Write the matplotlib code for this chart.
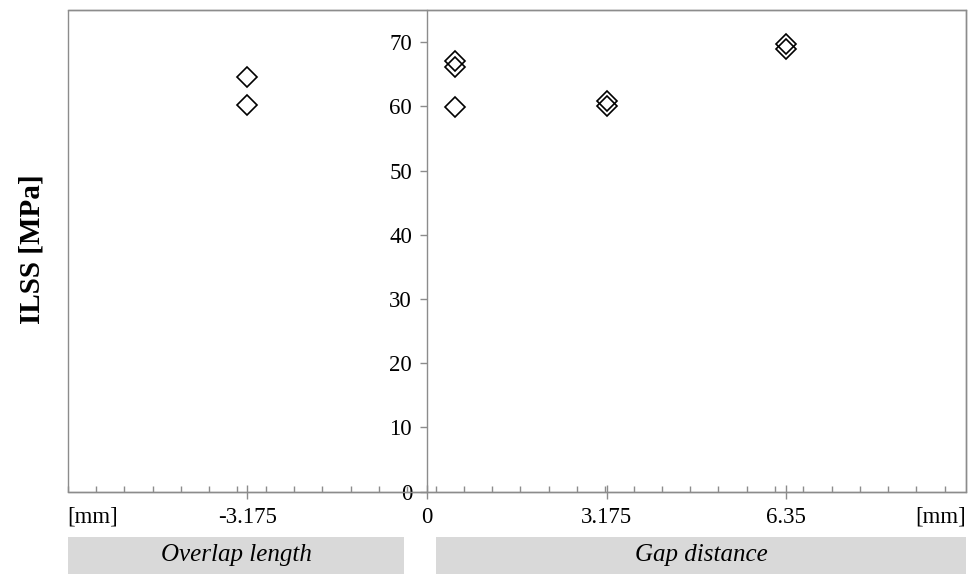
import matplotlib
matplotlib.use("Agg")
import matplotlib.pyplot as plt
from matplotlib.patches import Rectangle
import numpy as np

# Data
overlap_x = [-3.175, -3.175]
overlap_y = [64.6, 60.2]
gap_x = [0.5, 0.5, 0.5, 3.175, 3.175, 6.35, 6.35]
gap_y = [67.0, 66.2, 59.9, 60.8, 60.0, 69.7, 68.9]
major_ticks = [-3.175, 0, 3.175, 6.35]
major_labels = ["-3.175", "0", "3.175", "6.35"]
y_ticks = [0, 10, 20, 30, 40, 50, 60, 70]

SERIF = ["Liberation Serif", "DejaVu Serif"]
plt.rcParams["font.family"] = SERIF
GRAY = "#8c8c8c"

W, H = 973, 574
fig = plt.figure(figsize=(W / 100, H / 100), dpi=100)
l, r, t, b = 67.7, 966, 10, 491.7
ax = fig.add_axes([l / W, 1 - b / H, (r - l) / W, (b - t) / H])

ax.set_xlim(-6.35, 9.525)
ax.set_ylim(0, 75)

ax.plot(overlap_x + gap_x, overlap_y + gap_y, linestyle="none", marker="D",
        markersize=10, markerfacecolor="none", markeredgecolor="black",
        markeredgewidth=1.2, clip_on=False, zorder=5)

# spines
for s in ["top", "right"]:
    ax.spines[s].set_color(GRAY)
    ax.spines[s].set_linewidth(1.0)
ax.spines["left"].set_position(("data", 0))
ax.spines["left"].set_color(GRAY)
ax.spines["left"].set_linewidth(1.0)
ax.spines["bottom"].set_color(GRAY)
ax.spines["bottom"].set_linewidth(1.0)
ax.add_patch(Rectangle((0, 0), 1, 1, transform=ax.transAxes, fill=False,
                       edgecolor=GRAY, linewidth=1.0, clip_on=False, zorder=1))

ax.set_yticks(y_ticks)
ax.set_yticklabels([str(v) for v in y_ticks])
ax.tick_params(axis="y", direction="out", length=4.8, width=1.0, color=GRAY,
               labelsize=16.5, pad=6)

ax.set_xticks(major_ticks)
ax.set_xticklabels(major_labels)
minor = [-6.35 + 0.5 * k for k in range(32) if -6.35 + 0.5 * k < 9.525]
ax.set_xticks(minor, minor=True)
ax.tick_params(axis="x", which="major", direction="inout", length=9.5, width=1.0,
               color=GRAY, labelsize=16.5, pad=6)
ax.tick_params(axis="x", which="minor", direction="in", length=4, width=1.0,
               color=GRAY)

# [mm] labels
fig.text(l / W, 1 - 517 / H, "[mm]", ha="left", va="center", fontsize=16.5)
fig.text(r / W, 1 - 517 / H, "[mm]", ha="right", va="center", fontsize=16.5)

# y label
fig.text(32 / W, 1 - 249 / H, "ILSS [MPa]", rotation=90, ha="center", va="center",
         fontsize=21, fontweight="bold")

# bottom grey boxes
box_y0 = 1 - 574 / H
box_h = (574 - 536.7) / H
fig.patches.append(Rectangle((l / W, box_y0), (404.3 - l) / W, box_h,
                             transform=fig.transFigure, facecolor="#d9d9d9",
                             edgecolor="none"))
fig.patches.append(Rectangle((436 / W, box_y0), (r - 436) / W, box_h,
                             transform=fig.transFigure, facecolor="#d9d9d9",
                             edgecolor="none"))
fig.text((l + 404.3) / 2 / W, 1 - 555 / H, "Overlap length", ha="center",
         va="center", fontsize=18, style="italic")
fig.text((436 + r) / 2 / W, 1 - 555 / H, "Gap distance", ha="center",
         va="center", fontsize=18, style="italic")

fig.savefig("out.png", dpi=100)
